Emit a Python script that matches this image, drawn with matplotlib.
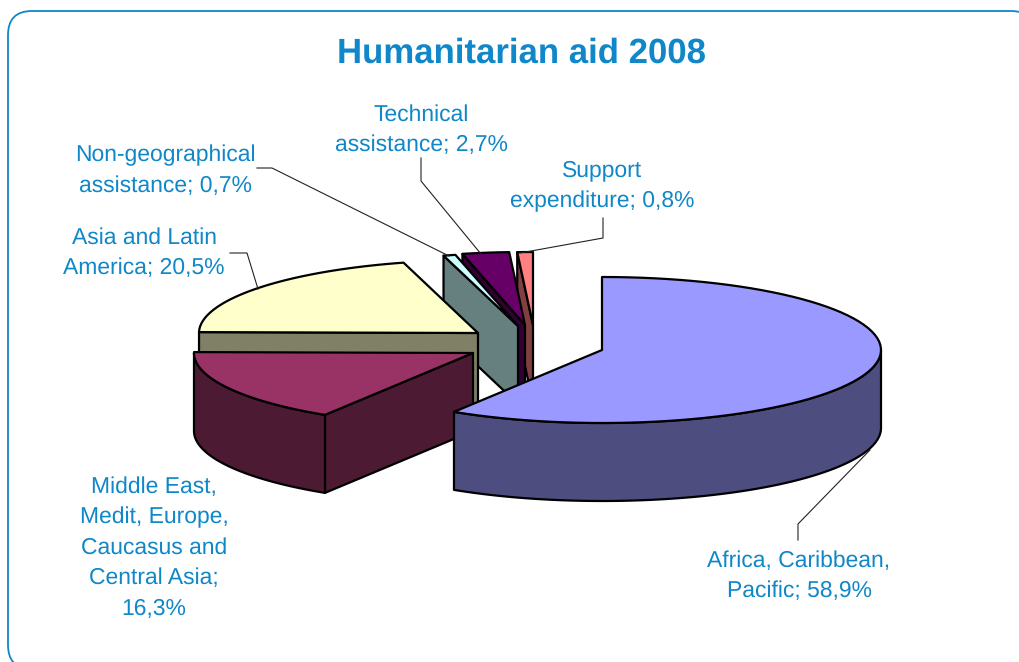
#!/usr/bin/env python3
import numpy as np
import matplotlib
matplotlib.use("Agg")
import matplotlib.pyplot as plt
from matplotlib.patches import FancyBboxPatch, Polygon

plt.rcParams['font.family'] = ['Liberation Sans', 'DejaVu Sans']
plt.rcParams['text.hinting'] = 'no_hinting'

title = "Humanitarian aid 2008"
names = ["Africa, Caribbean,\nPacific", "Middle East,\nMedit, Europe,\nCaucasus and\nCentral Asia;",
         "Asia and Latin\nAmerica", "Non-geographical\nassistance", "Technical\nassistance",
         "Support\nexpenditure"]
shares = [58.9, 16.3, 20.5, 0.7, 2.7, 0.8]
top_colors = ["#9999FF", "#993366", "#FFFFCC", "#CCFFFF", "#660066", "#FF8080"]
side_colors = ["#4D4D80", "#4D1A33", "#808066", "#668080", "#330033", "#804040"]

# 各扇形の頂点位置 (explode)
centers = [(602, 350), (473, 353), (478, 333), (518, 326), (525, 325), (533, 325)]
label_pos = [(799, 576), (154, 548), (144, 253), (165, 171), (421, 130), (602, 186)]
draw_order = [5, 4, 3, 2, 1, 0]

# 引き出し線
leaders = [
    [(798, 540), (798, 524), (870, 450)],
    [(230, 253), (247, 253), (258, 289)],
    [(257, 168), (272, 168), (449, 256)],
    [(421, 158), (421, 181), (481, 254)],
    [(603, 218), (603, 238), (520, 253)],
]

TEXT = "#0F87C8"
RX = 279.0
RY = 73.0
DEPTH = 78.0
LW = 1.6


def ellipse_pts(cx, cy, a0, a1, n=80):
    # 角度は真上から時計回り
    t = np.radians(np.linspace(a0, a1, n))
    return np.column_stack([cx + RX * np.sin(t), cy - RY * np.cos(t)])


def draw_wedge(ax, center, a0, a1, top, side):
    cx, cy = center
    drop = np.array([0, DEPTH])
    # 手前に向く側面
    if np.sin(np.radians(a0)) < -1e-6:
        p = ellipse_pts(cx, cy, a0, a0, 1)[0]
        c = np.array([cx, cy])
        ax.add_patch(Polygon([p, c, c + drop, p + drop], fc=side, ec="k", lw=LW, joinstyle="round"))
    # 外周の側面
    b0, b1 = max(a0, 90), min(a1, 270)
    if b1 > b0:
        arc = ellipse_pts(cx, cy, b0, b1)
        ax.add_patch(Polygon(np.vstack([arc, arc[::-1] + drop]), fc=side, ec="k", lw=LW, joinstyle="round"))
    # 上面
    arc = ellipse_pts(cx, cy, a0, a1)
    ax.add_patch(Polygon(np.vstack([[cx, cy], arc]), fc=top, ec="k", lw=LW, joinstyle="round"))


fig = plt.figure(figsize=(10.19, 6.62), dpi=100)
ax = fig.add_axes([0, 0, 1, 1])
ax.set_xlim(0, 1019)
ax.set_ylim(662, 0)
ax.axis("off")

# 枠
ax.add_patch(FancyBboxPatch((8, 11), 1027, 658, boxstyle="round,pad=0,rounding_size=24",
                            fc="white", ec=TEXT, lw=1.3))

edges = np.concatenate([[0], np.cumsum(shares)]) * 3.6
edges[-1] = 360
for i in draw_order:
    draw_wedge(ax, centers[i], edges[i], edges[i + 1], top_colors[i], side_colors[i])

for line in leaders:
    xs, ys = zip(*line)
    ax.plot(xs, ys, color="#222222", lw=0.8)

ax.text(521, 54, title, color=TEXT, fontsize=25, fontweight="bold", ha="center", va="center")
for name, val, pos in zip(names, shares, label_pos):
    sep = "\n" if name.endswith(";") else "; "
    s = name + sep + ("%.1f%%" % val).replace(".", ",")
    ax.text(pos[0], pos[1], s, color=TEXT, fontsize=16.5, ha="center", va="center", linespacing=1.54)

fig.savefig("out.png", dpi=100)
